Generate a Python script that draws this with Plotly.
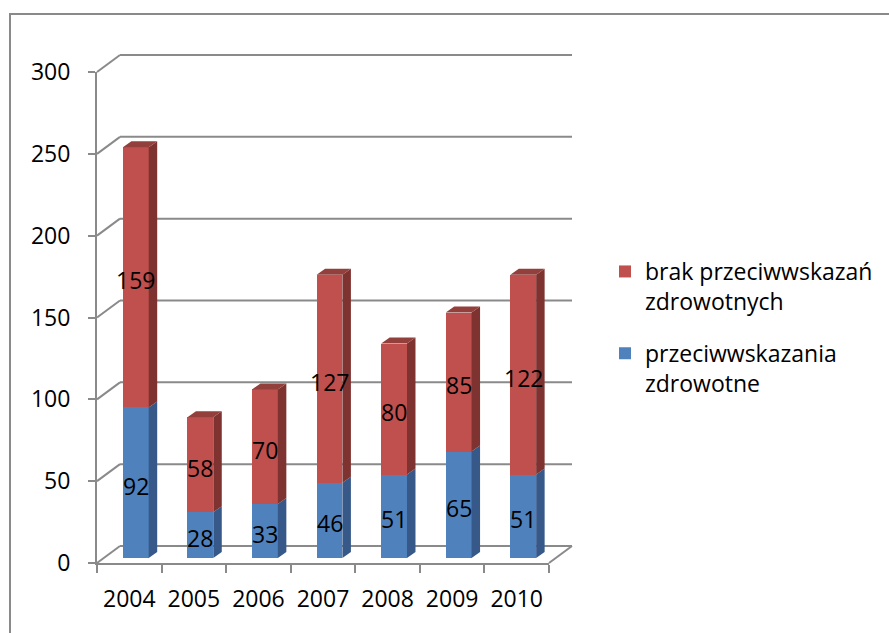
import plotly.graph_objects as go

# ---- data -------------------------------------------------------------
years = ["2004", "2005", "2006", "2007", "2008", "2009", "2010"]
przeciwwskazania = [92, 28, 33, 46, 51, 65, 51]          # przeciwwskazania zdrowotne
brak_przeciwwskazan = [159, 58, 70, 127, 80, 85, 122]    # brak przeciwwskazań zdrowotnych
y_ticks = [0, 50, 100, 150, 200, 250, 300]

# ---- geometry of the pseudo-3D box (pixels) -----------------------------
W, H = 889, 633
FX0, FX1 = 97, 549          # front plane, left / right
FY0, FY1 = 563, 72          # front plane, value 0 / value max
Y_MAX = 300
PLOT_W = FX1 - FX0
PLOT_H = FY0 - FY1
px_per_unit = PLOT_H / Y_MAX
px_per_cat = PLOT_W / len(years)

WALL_DX, WALL_DY = 23, 17   # depth of the walls / floor
BAR_DX, BAR_DY = 6.5, 5     # where the bars' front faces sit in depth
SIDE_DX, SIDE_DY = 8.5, 6   # depth of a column
BAR_W = 0.4

GRID = "#8a8a8a"
BLUE, BLUE_SIDE = "#4F81BD", "#36598A"
RED, RED_SIDE, RED_TOP = "#C0504D", "#7F3331", "#93403D"
FONT = "Open Sans"
FS = 23


def xdom(shift):
    return [(FX0 + shift) / W, (FX1 + shift) / W]


def ydom(shift):
    return [1 - (FY0 - shift) / H, 1 - (FY1 - shift) / H]


idx = list(range(len(years)))
sdx = SIDE_DX / px_per_cat
sdy = SIDE_DY / px_per_unit
half = BAR_W / 2


def side_faces(bases, values):
    xs, ys = [], []
    for i, b, v in zip(idx, bases, values):
        xs += [i + half, i + half + sdx, i + half + sdx, i + half, None]
        ys += [b, b + sdy, b + v + sdy, b + v, None]
    return xs, ys


def top_faces(tops):
    xs, ys = [], []
    for i, t in zip(idx, tops):
        xs += [i - half, i - half + sdx, i + half + sdx, i + half, None]
        ys += [t, t + sdy, t + sdy, t, None]
    return xs, ys


totals = [a + b for a, b in zip(przeciwwskazania, brak_przeciwwskazan)]

fig = go.Figure()

# invisible trace that gives the front category axis its categories
fig.add_trace(go.Scatter(x=years, y=[0] * len(years), mode="markers",
                         marker=dict(opacity=0), hoverinfo="skip",
                         showlegend=False, xaxis="x", yaxis="y"))

# column front faces
fig.add_trace(go.Bar(x=idx, y=przeciwwskazania, width=BAR_W,
                     name="przeciwwskazania<br>zdrowotne",
                     legendgroup="przeciwwskazania", legendrank=2,
                     marker=dict(color=BLUE, line=dict(width=0)),
                     xaxis="x2", yaxis="y2"))
fig.add_trace(go.Bar(x=idx, y=brak_przeciwwskazan, width=BAR_W,
                     name="brak przeciwwskazań<br>zdrowotnych",
                     legendgroup="brak", legendrank=1,
                     marker=dict(color=RED, line=dict(width=0)),
                     xaxis="x2", yaxis="y2"))

# column side and top faces
bx, by = side_faces([0] * len(years), przeciwwskazania)
fig.add_trace(go.Scatter(x=bx, y=by, mode="lines", fill="toself",
                         fillcolor=BLUE_SIDE, line=dict(width=0),
                         hoverinfo="skip", showlegend=False,
                         xaxis="x2", yaxis="y2"))
rx, ry = side_faces(przeciwwskazania, brak_przeciwwskazan)
fig.add_trace(go.Scatter(x=rx, y=ry, mode="lines", fill="toself",
                         fillcolor=RED_SIDE, line=dict(width=0),
                         hoverinfo="skip", showlegend=False,
                         xaxis="x2", yaxis="y2"))
tx, ty = top_faces(totals)
fig.add_trace(go.Scatter(x=tx, y=ty, mode="lines", fill="toself",
                         fillcolor=RED_TOP, line=dict(width=0),
                         hoverinfo="skip", showlegend=False,
                         xaxis="x2", yaxis="y2"))

# value labels centred in each segment
label_font = dict(family=FONT, size=FS, color="black")
annotations = []
for i, a, b in zip(idx, przeciwwskazania, brak_przeciwwskazan):
    for base, val in ((0, a), (a, b)):
        annotations.append(dict(x=i, y=base + val / 2, xref="x2", yref="y2",
                                text=str(val), showarrow=False,
                                font=label_font, yshift=-3))

# back wall gridlines, wall/floor edges
wdx = WALL_DX / PLOT_W
wdy = WALL_DY / PLOT_H
shapes = []
for v in y_ticks:
    yf = v / Y_MAX
    shapes.append(dict(type="line", xref="x domain", yref="y domain",
                       x0=wdx, x1=1 + wdx, y0=yf + wdy, y1=yf + wdy,
                       line=dict(color=GRID, width=2), layer="below"))
    shapes.append(dict(type="line", xref="x domain", yref="y domain",
                       x0=0, x1=wdx, y0=yf, y1=yf + wdy,
                       line=dict(color=GRID, width=2), layer="below"))
shapes.append(dict(type="line", xref="x domain", yref="y domain",
                   x0=1, x1=1 + wdx, y0=0, y1=wdy,
                   line=dict(color=GRID, width=2), layer="below"))
# chart area border
shapes.append(dict(type="rect", xref="paper", yref="paper",
                   x0=10 / W, x1=1.02, y0=-0.02, y1=1 - 14 / H,
                   line=dict(color=GRID, width=2), layer="below"))

fig.update_layout(
    width=W, height=H,
    margin=dict(l=0, r=0, t=0, b=0, autoexpand=False),
    paper_bgcolor="white", plot_bgcolor="rgba(0,0,0,0)",
    font=dict(family=FONT, size=FS, color="black"),
    barmode="stack",
    shapes=shapes,
    annotations=annotations,
    xaxis=dict(domain=xdom(0), type="category", categoryorder="array",
               categoryarray=years, range=[-0.5, len(years) - 0.5],
               tickson="boundaries", ticks="outside", ticklen=8, tickwidth=2,
               tickcolor=GRID, showline=True, linecolor=GRID, linewidth=2,
               showgrid=False, zeroline=False, anchor="y",
               tickfont=label_font, ticklabelstandoff=14,
               automargin=False, fixedrange=True),
    yaxis=dict(domain=ydom(0), range=[0, Y_MAX], tickmode="array",
               tickvals=y_ticks, ticks="outside", ticklen=7, tickwidth=2,
               tickcolor=GRID, showline=True, linecolor=GRID, linewidth=2,
               showgrid=False, zeroline=False, anchor="x",
               tickfont=label_font, ticklabelstandoff=13,
               automargin=False, fixedrange=True),
    xaxis2=dict(domain=xdom(BAR_DX), range=[-0.5, len(years) - 0.5],
                visible=False, anchor="y2", fixedrange=True),
    yaxis2=dict(domain=ydom(BAR_DY), range=[0, Y_MAX],
                visible=False, anchor="x2", fixedrange=True),
    legend=dict(x=605 / W, y=1 - 250 / H, xanchor="left", yanchor="top",
                traceorder="grouped", tracegroupgap=19,
                valign="top", bgcolor="rgba(0,0,0,0)",
                font=label_font),
    hovermode=False,
)

fig.write_html("out.html")
